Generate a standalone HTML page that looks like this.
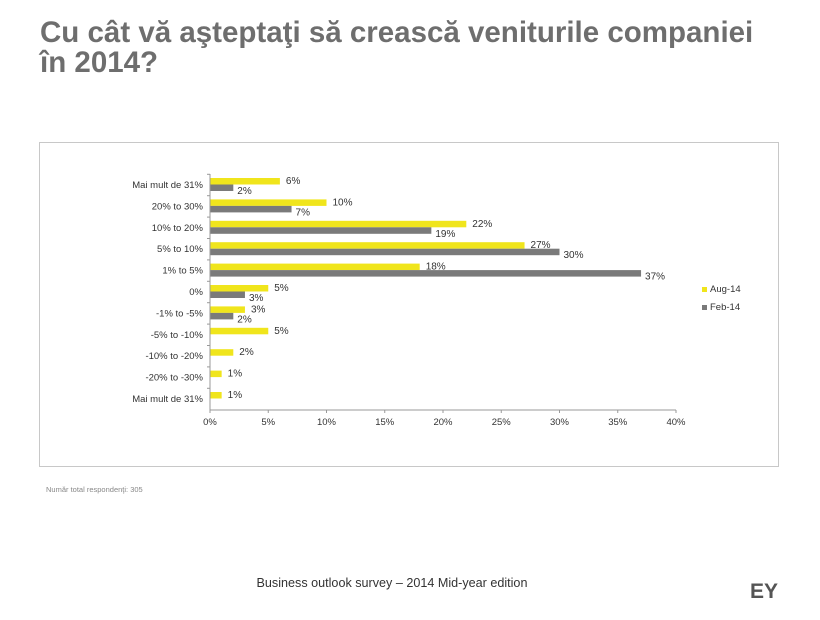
<!DOCTYPE html>
<html><head><meta charset="utf-8"><style>
body{margin:0;width:820px;height:615px;background:#fff;overflow:hidden;font-family:"Liberation Sans",sans-serif;}
</style></head><body>
<svg width="820" height="615" xmlns="http://www.w3.org/2000/svg" font-family="Liberation Sans, sans-serif">
<text x="40" y="42" font-size="29.5" font-weight="bold" fill="#6e6e6e">Cu cât vă aşteptaţi să crească veniturile companiei</text>
<text x="40" y="72" font-size="29.5" font-weight="bold" fill="#6e6e6e">în 2014?</text>
<rect x="39.5" y="142.5" width="739" height="324" fill="#fff" stroke="#c8c8c8"/>
<g id="bars"></g>
<line x1="210" y1="174" x2="210" y2="410" stroke="#999"/>
<line x1="210" y1="410" x2="676" y2="410" stroke="#999"/>
<g font-size="9.5" fill="#333" text-anchor="middle" id="xt"></g>
<g font-size="9.5" fill="#333" text-anchor="end" id="cats"></g>
<rect x="702" y="287" width="5" height="5" fill="#f0e51c"/>
<text x="710" y="292" font-size="9.5" fill="#333">Aug-14</text>
<rect x="702" y="305" width="5" height="5" fill="#7a7a7a"/>
<text x="710" y="310" font-size="9.5" fill="#333">Feb-14</text>
<text x="46" y="492" font-size="7.5" fill="#888">Număr total respondenţi: 305</text>
<text x="392" y="587" font-size="12.6" fill="#333" text-anchor="middle">Business outlook survey – 2014 Mid-year edition</text>
<text x="750" y="598" font-size="21" font-weight="bold" fill="#555">EY</text>
<script>
var cats=["Mai mult de  31%","20% to 30%","10% to 20%","5% to 10%","1% to 5%","0%","-1% to -5%","-5% to -10%","-10% to -20%","-20% to -30%","Mai mult de 31%"];
var a=[6,10,22,27,18,5,3,5,2,1,1], f=[2,7,19,30,37,3,2,null,null,null,null];
var s=11.65,ns="http://www.w3.org/2000/svg",b=document.getElementById("bars"),c=document.getElementById("cats"),x=document.getElementById("xt");
function el(t,at,p,tx){var e=document.createElementNS(ns,t);for(var k in at)e.setAttribute(k,at[k]);if(tx!=null)e.textContent=tx;p.appendChild(e);}
for(var i=0;i<11;i++){var cy=185+i*21.4;
el("text",{x:203,y:cy+3},c,cats[i]);
el("line",{x1:207,y1:cy-10.7,x2:210,y2:cy-10.7,stroke:"#999"},b);
el("rect",{x:210,y:cy-7,width:a[i]*s,height:6.5,fill:"#f0e51c"},b);
el("text",{x:210+a[i]*s+6,y:cy-1,"font-size":"10",fill:"#333"},b,a[i]+"%");
if(f[i]!=null){el("rect",{x:210,y:cy-0.5,width:f[i]*s,height:6.5,fill:"#7a7a7a"},b);
el("text",{x:210+f[i]*s+4,y:cy+9,"font-size":"10",fill:"#333"},b,f[i]+"%");}}
for(var j=0;j<=8;j++){var xx=210+j*5*s;el("text",{x:xx,y:425},x,(j*5)+"%");el("line",{x1:xx,y1:410,x2:xx,y2:413,stroke:"#999"},b);}
</script>
</svg>
</body></html>
